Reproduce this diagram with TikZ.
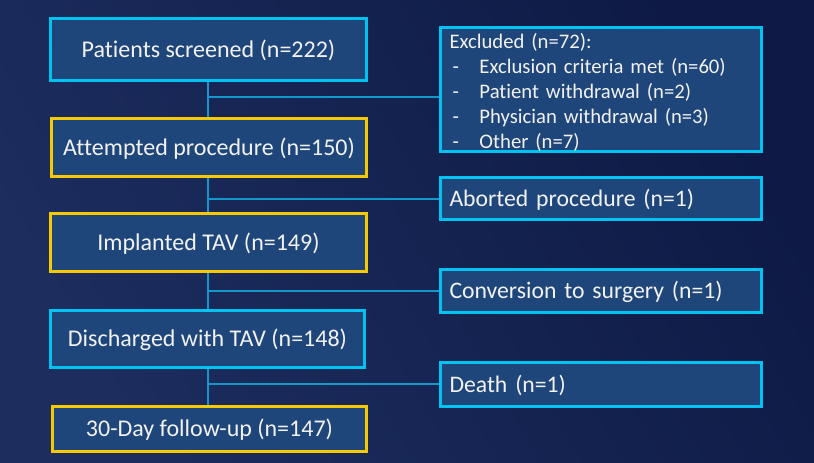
\documentclass[tikz,border=0pt]{standalone}
\usepackage{fontspec}
\setmainfont{Carlito}[Ligatures=NoCommon]
\definecolor{bgA}{HTML}{0E1A45}
\definecolor{bgB}{HTML}{1C2D5E}
\definecolor{boxfill}{HTML}{1F467A}
\definecolor{cyanline}{HTML}{00C3F2}
\definecolor{yelline}{HTML}{F7C900}
\definecolor{conn}{HTML}{1597CC}
\definecolor{txt}{HTML}{F2F2F2}
\begin{document}
\begin{tikzpicture}[x=1pt,y=-1pt,
  basebox/.style={draw, line width=3pt, fill=boxfill, text=txt, inner sep=0pt},
  oneline/.style={text height=18pt, text depth=2.5pt},
  leftc/.style={basebox, oneline, draw=cyanline, font=\fontsize{24}{28}\selectfont},
  lefty/.style={basebox, oneline, draw=yelline, font=\fontsize{24}{28}\selectfont},
  rightbox/.style={basebox, draw=cyanline, minimum width=321pt, text width=303pt, align=left, inner xsep=9pt, font=\fontsize{23.7}{28}\selectfont},
  connline/.style={draw=conn, line width=1.3pt}]
\useasboundingbox (0,0) rectangle (814,463);
\shade[top color=bgA, bottom color=bgB, shading angle=-60] (0,0) rectangle (814,463);

% left column
\node[leftc, minimum width=316pt, minimum height=62pt] (ps) at (208.5,49.5) {Patients screened (n=222)};
\node[lefty, minimum width=315pt, minimum height=58pt] (ap) at (209,147.5) {Attempted procedure (n=150)};
\node[lefty, minimum width=316pt, minimum height=58pt] (it) at (208.5,242.5) {Implanted TAV (n=149)};
\node[leftc, minimum width=314pt, minimum height=57pt] (dt) at (207.5,339) {Discharged with TAV (n=148)};
\node[lefty, minimum width=314pt, minimum height=45pt] (fu) at (209.5,429) {30-Day follow-up (n=147)};

% right column
\node[rightbox, minimum height=124pt, font=\fontsize{20.7}{25}\selectfont] (ex) at (601,89.5)
  {\rule{0pt}{21.5pt}Excluded (n=72):\\
   \makebox[30pt][l]{\hspace{3pt}-}Exclusion criteria met (n=60)\\
   \makebox[30pt][l]{\hspace{3pt}-}Patient withdrawal (n=2)\\
   \makebox[30pt][l]{\hspace{3pt}-}Physician withdrawal (n=3)\\
   \makebox[30pt][l]{\hspace{3pt}-}Other (n=7)};
\node[rightbox, oneline, minimum height=42pt] (ab) at (601,198.5) {Aborted procedure (n=1)};
\node[rightbox, oneline, minimum height=43pt] (cs) at (601,291) {Conversion to surgery (n=1)};
\node[rightbox, oneline, minimum height=44pt] (de) at (601,384.5) {Death (n=1)};

% junctions
\coordinate (j1) at (208,97);
\coordinate (j2) at (208,199);
\coordinate (j3) at (208,291);
\coordinate (j4) at (208,384);

\path[connline] (j1 |- ps.south) -- (j1 |- ap.north);
\path[connline] (j2 |- ap.south) -- (j2 |- it.north);
\path[connline] (j3 |- it.south) -- (j3 |- dt.north);
\path[connline] (j4 |- dt.south) -- (j4 |- fu.north);
\path[connline] (j1) -- (j1 -| ex.west);
\path[connline] (j2) -- (j2 -| ab.west);
\path[connline] (j3) -- (j3 -| cs.west);
\path[connline] (j4) -- (j4 -| de.west);
\end{tikzpicture}
\end{document}
